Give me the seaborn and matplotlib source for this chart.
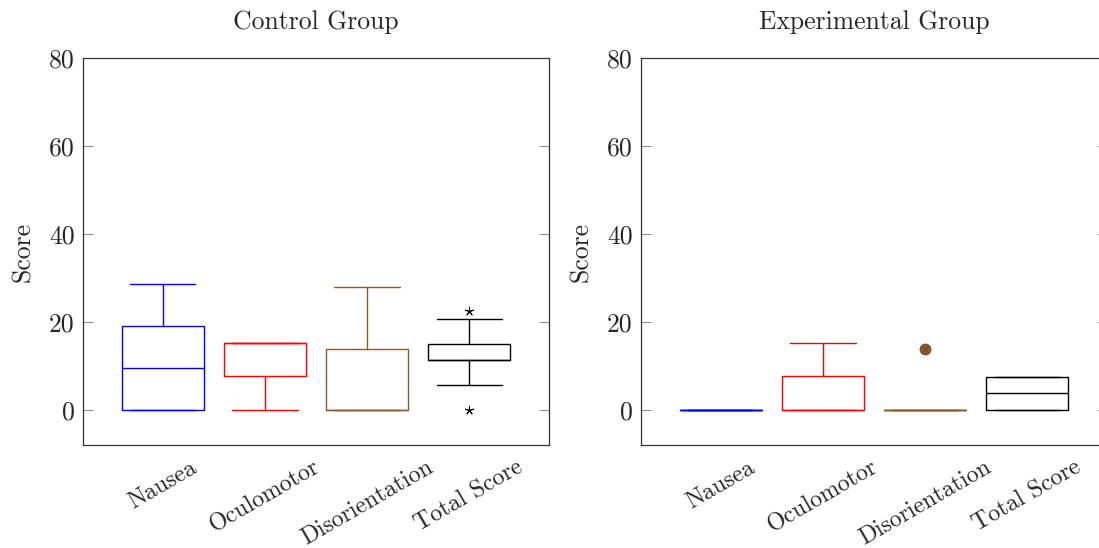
import numpy as np
import pandas as pd
import matplotlib
matplotlib.use("Agg")
import matplotlib.pyplot as plt
import seaborn as sns

# ---------------- data ----------------
categories = ["Nausea", "Oculomotor", "Disorientation", "Total Score"]
box_colors = ["#0000FF", "#FF0000", "#8B5A2B", "#000000"]

ctrl_whislo = [0.0, 0.0, 0.0, 5.61]
ctrl_q1 = [0.0, 7.58, 0.0, 11.22]
ctrl_med = [9.54, 15.16, 0.0, 11.22]
ctrl_q3 = [19.08, 15.16, 13.92, 14.96]
ctrl_whishi = [28.62, 15.16, 27.84, 20.57]
ctrl_out_cat = ["Total Score", "Total Score"]
ctrl_out_val = [22.44, 0.0]

exp_whislo = [0.0, 0.0, 0.0, 0.0]
exp_q1 = [0.0, 0.0, 0.0, 0.0]
exp_med = [0.0, 0.0, 0.0, 3.74]
exp_q3 = [0.0, 7.58, 0.0, 7.48]
exp_whishi = [0.0, 15.16, 0.0, 7.48]
exp_out_cat = ["Disorientation"]
exp_out_val = [13.92]

titles = ["Control Group", "Experimental Group"]
yticks = [0, 20, 40, 60, 80]

# ---------------- style ----------------
sns.set_style("ticks")
plt.rcParams["font.family"] = ["cmr10", "DejaVu Serif"]
plt.rcParams["mathtext.fontset"] = "cm"
plt.rcParams["axes.formatter.use_mathtext"] = True
plt.rcParams["axes.unicode_minus"] = False

FS = 18.5
FS_X = 17.2
W, H = 1099, 548
fig = plt.figure(figsize=(W / 100, H / 100), dpi=100)

ax_w = 466 / W
ax_h = 387 / H
ax_b = 1 - 445 / H
ax1 = fig.add_axes([83 / W, ax_b, ax_w, ax_h])
ax2 = fig.add_axes([641 / W, ax_b, ax_w, ax_h])

positions = np.arange(1, len(categories) + 1)


def draw(ax, whislo, q1, med, q3, whishi, out_cat, out_val, title, out_kind):
    for i, cat in enumerate(categories):
        c = box_colors[i]
        st = [dict(whislo=whislo[i], q1=q1[i], med=med[i], q3=q3[i],
                   whishi=whishi[i], fliers=[], label=cat)]
        lp = dict(color=c, linewidth=1.0)
        ax.bxp(st, positions=[positions[i]], widths=0.8, capwidths=0.64,
               showfliers=False, patch_artist=False,
               boxprops=lp, whiskerprops=lp, capprops=lp, medianprops=lp)
    df = pd.DataFrame({"pos": [positions[categories.index(c)] for c in out_cat],
                       "val": out_val})
    if out_kind == "star":
        sns.scatterplot(data=df, x="pos", y="val", ax=ax, marker=(5, 2, 0),
                        color="black", s=38, linewidth=0.7, zorder=5)
    else:
        sns.scatterplot(data=df, x="pos", y="val", ax=ax, marker="o",
                        color="#8B5A2B", edgecolor="#6B4420", s=62,
                        linewidth=0.6, zorder=5)
        sns.scatterplot(data=df, x="pos", y="val", ax=ax, marker="x",
                        color="#6B4420", s=22, linewidth=0.5, zorder=6)

    ax.set_xlim(0.22, 4.78)
    ax.set_ylim(-8, 80)
    ax.set_yticks(yticks)
    ax.set_yticklabels([str(t) for t in yticks], fontsize=FS)
    ax.set_xticks(positions)
    ax.set_xticklabels(categories, rotation=30, ha="center", va="top",
                       fontsize=FS_X)
    ax.tick_params(axis="x", length=0, pad=8)
    ax.tick_params(axis="y", direction="in", length=7, width=0.7,
                   color="#888888", left=True, right=True, pad=6)
    for s in ax.spines.values():
        s.set_visible(True)
        s.set_color("#333333")
        s.set_linewidth(0.9)
    ax.set_xlabel("")
    ax.set_ylabel("Score", fontsize=FS, labelpad=10)
    ax.set_title(title, fontsize=FS, pad=21)


draw(ax1, ctrl_whislo, ctrl_q1, ctrl_med, ctrl_q3, ctrl_whishi,
     ctrl_out_cat, ctrl_out_val, titles[0], "star")
draw(ax2, exp_whislo, exp_q1, exp_med, exp_q3, exp_whishi,
     exp_out_cat, exp_out_val, titles[1], "circle")

fig.savefig("out.png", dpi=100)
